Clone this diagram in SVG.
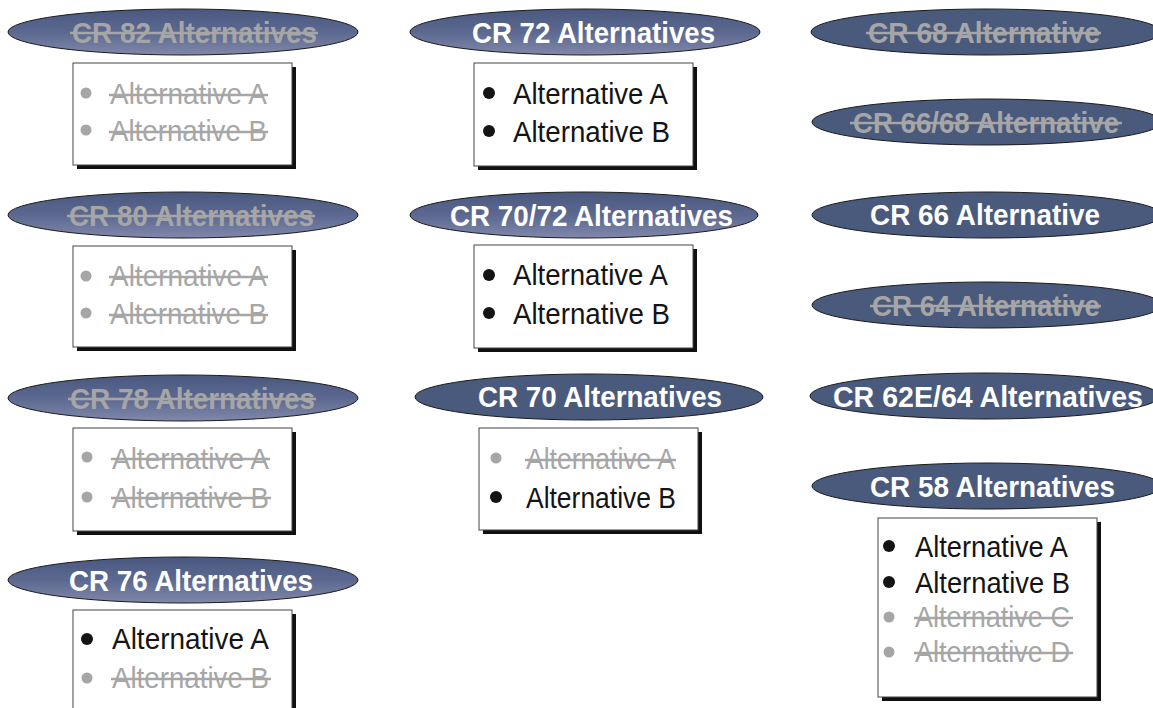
<svg xmlns="http://www.w3.org/2000/svg" width="1153" height="708" viewBox="0 0 1153 708">
<defs>
<linearGradient id="grad" x1="0" y1="0" x2="0" y2="1">
<stop offset="0" stop-color="#4a5880"/>
<stop offset="0.5" stop-color="#5c6890"/>
<stop offset="1" stop-color="#8088aa"/>
</linearGradient>
<style>
.eg{fill:url(#grad);stroke:#1a1a1a;stroke-width:1}
.es{fill:#4a5a7c;stroke:#1a1a1a;stroke-width:1}
.tt{font-family:"Liberation Sans Narrow","Liberation Sans",Arial,sans-serif;font-weight:bold;font-size:29px}
.it{font-family:"Liberation Sans Narrow","Liberation Sans",Arial,sans-serif;font-size:30px}
.on{fill:#ffffff}
.off{fill:#a6a6a6}
.blk{fill:#141414}
.st{stroke:#a6a6a6;stroke-width:2.5}
.shadow{fill:#111}
.box{fill:#fff;stroke:#444;stroke-width:1}
</style>
</defs>
<rect width="1153" height="708" fill="#fff"/>

<!-- Left column -->
<g id="cr82">
<ellipse class="eg" cx="183" cy="32" rx="175" ry="23"/>
<text class="tt off" x="72" y="43" textLength="245" lengthAdjust="spacingAndGlyphs">CR 82 Alternatives</text>
<line class="st" x1="70" y1="33" x2="318" y2="33"/>
<rect class="shadow" x="77" y="67" width="219" height="102"/>
<rect class="box" x="73" y="63" width="219" height="102"/>
<circle class="off" cx="86" cy="93" r="5.5"/>
<text class="it off" x="110" y="104" textLength="157" lengthAdjust="spacingAndGlyphs">Alternative A</text>
<line class="st" x1="109" y1="95" x2="268" y2="95"/>
<circle class="off" cx="86" cy="130" r="5.5"/>
<text class="it off" x="110" y="141" textLength="157" lengthAdjust="spacingAndGlyphs">Alternative B</text>
<line class="st" x1="109" y1="132" x2="268" y2="132"/>
</g>

<g id="cr80">
<ellipse class="eg" cx="183" cy="215" rx="175" ry="23"/>
<text class="tt off" x="69" y="226" textLength="245" lengthAdjust="spacingAndGlyphs">CR 80 Alternatives</text>
<line class="st" x1="67" y1="216" x2="315" y2="216"/>
<rect class="shadow" x="77" y="250" width="219" height="101"/>
<rect class="box" x="73" y="246" width="219" height="101"/>
<circle class="off" cx="86" cy="276" r="5.5"/>
<text class="it off" x="110" y="286" textLength="157" lengthAdjust="spacingAndGlyphs">Alternative A</text>
<line class="st" x1="109" y1="277" x2="268" y2="277"/>
<circle class="off" cx="86" cy="313" r="5.5"/>
<text class="it off" x="110" y="324" textLength="157" lengthAdjust="spacingAndGlyphs">Alternative B</text>
<line class="st" x1="109" y1="315" x2="268" y2="315"/>
</g>

<g id="cr78">
<ellipse class="eg" cx="183" cy="398" rx="175" ry="23"/>
<text class="tt off" x="70" y="409" textLength="245" lengthAdjust="spacingAndGlyphs">CR 78 Alternatives</text>
<line class="st" x1="68" y1="399" x2="316" y2="399"/>
<rect class="shadow" x="77" y="432" width="219" height="103"/>
<rect class="box" x="73" y="428" width="219" height="103"/>
<circle class="off" cx="87" cy="457" r="5.5"/>
<text class="it off" x="112" y="469" textLength="157" lengthAdjust="spacingAndGlyphs">Alternative A</text>
<line class="st" x1="111" y1="459" x2="270" y2="459"/>
<circle class="off" cx="87" cy="497" r="5.5"/>
<text class="it off" x="112" y="508" textLength="157" lengthAdjust="spacingAndGlyphs">Alternative B</text>
<line class="st" x1="111" y1="498" x2="271" y2="498"/>
</g>

<g id="cr76">
<ellipse class="eg" cx="183" cy="580" rx="175" ry="23"/>
<text class="tt on" x="69" y="591" textLength="244" lengthAdjust="spacingAndGlyphs">CR 76 Alternatives</text>
<rect class="shadow" x="77" y="614" width="219" height="120"/>
<rect class="box" x="73" y="610" width="219" height="120"/>
<circle class="blk" cx="87" cy="639" r="6"/>
<text class="it blk" x="112" y="649" textLength="157" lengthAdjust="spacingAndGlyphs">Alternative A</text>
<circle class="off" cx="87" cy="678" r="5.5"/>
<text class="it off" x="112" y="688" textLength="157" lengthAdjust="spacingAndGlyphs">Alternative B</text>
<line class="st" x1="111" y1="679" x2="271" y2="679"/>
</g>

<!-- Middle column -->
<g id="cr72">
<ellipse class="eg" cx="585" cy="32" rx="175" ry="23"/>
<text class="tt on" x="472" y="43" textLength="243" lengthAdjust="spacingAndGlyphs">CR 72 Alternatives</text>
<rect class="shadow" x="478" y="67" width="219" height="103"/>
<rect class="box" x="474" y="63" width="219" height="103"/>
<circle class="blk" cx="489" cy="93" r="6"/>
<text class="it blk" x="513" y="104" textLength="155" lengthAdjust="spacingAndGlyphs">Alternative A</text>
<circle class="blk" cx="489" cy="131" r="6"/>
<text class="it blk" x="513" y="142" textLength="157" lengthAdjust="spacingAndGlyphs">Alternative B</text>
</g>

<g id="cr70-72">
<ellipse class="eg" cx="584" cy="215" rx="174" ry="23"/>
<text class="tt on" x="450" y="226" textLength="283" lengthAdjust="spacingAndGlyphs">CR 70/72 Alternatives</text>
<rect class="shadow" x="478" y="249" width="219" height="103"/>
<rect class="box" x="474" y="245" width="219" height="103"/>
<circle class="blk" cx="489" cy="275" r="6"/>
<text class="it blk" x="513" y="285" textLength="155" lengthAdjust="spacingAndGlyphs">Alternative A</text>
<circle class="blk" cx="489" cy="313" r="6"/>
<text class="it blk" x="513" y="324" textLength="157" lengthAdjust="spacingAndGlyphs">Alternative B</text>
</g>

<g id="cr70">
<ellipse class="es" cx="589" cy="397" rx="174" ry="23"/>
<text class="tt on" x="478" y="407" textLength="244" lengthAdjust="spacingAndGlyphs">CR 70 Alternatives</text>
<rect class="shadow" x="483" y="432" width="219" height="102"/>
<rect class="box" x="479" y="428" width="219" height="102"/>
<circle class="off" cx="496" cy="458" r="5.5"/>
<text class="it off" x="526" y="469" textLength="149" lengthAdjust="spacingAndGlyphs">Alternative A</text>
<line class="st" x1="525" y1="460" x2="676" y2="460"/>
<circle class="blk" cx="496" cy="497" r="6"/>
<text class="it blk" x="526" y="508" textLength="150" lengthAdjust="spacingAndGlyphs">Alternative B</text>
</g>

<!-- Right column -->
<g id="cr68">
<ellipse class="es" cx="986" cy="32" rx="175" ry="23"/>
<text class="tt off" x="868" y="43" textLength="232" lengthAdjust="spacingAndGlyphs">CR 68 Alternative</text>
<line class="st" x1="866" y1="33" x2="1101" y2="33"/>
</g>

<g id="cr66-68">
<ellipse class="es" cx="987" cy="122" rx="175" ry="23"/>
<text class="tt off" x="853" y="133" textLength="266" lengthAdjust="spacingAndGlyphs">CR 66/68 Alternative</text>
<line class="st" x1="850" y1="123" x2="1122" y2="123"/>
</g>

<g id="cr66">
<ellipse class="es" cx="987" cy="215" rx="175" ry="23"/>
<text class="tt on" x="870" y="225" textLength="230" lengthAdjust="spacingAndGlyphs">CR 66 Alternative</text>
</g>

<g id="cr64">
<ellipse class="es" cx="987" cy="305" rx="175" ry="23"/>
<text class="tt off" x="872" y="316" textLength="228" lengthAdjust="spacingAndGlyphs">CR 64 Alternative</text>
<line class="st" x1="870" y1="306" x2="1101" y2="306"/>
</g>

<g id="cr62e-64">
<ellipse class="es" cx="985" cy="396" rx="175" ry="23"/>
<text class="tt on" x="833" y="407" textLength="310" lengthAdjust="spacingAndGlyphs">CR 62E/64 Alternatives</text>
</g>

<g id="cr58">
<ellipse class="es" cx="987" cy="486" rx="175" ry="23"/>
<text class="tt on" x="870" y="497" textLength="245" lengthAdjust="spacingAndGlyphs">CR 58 Alternatives</text>
<rect class="shadow" x="882" y="522" width="219" height="179"/>
<rect class="box" x="878" y="518" width="219" height="179"/>
<circle class="blk" cx="889" cy="546" r="6"/>
<text class="it blk" x="915" y="557" textLength="153" lengthAdjust="spacingAndGlyphs">Alternative A</text>
<circle class="blk" cx="889" cy="582" r="6"/>
<text class="it blk" x="915" y="593" textLength="155" lengthAdjust="spacingAndGlyphs">Alternative B</text>
<circle class="off" cx="889" cy="617" r="5.5"/>
<text class="it off" x="915" y="627" textLength="155" lengthAdjust="spacingAndGlyphs">Alternative C</text>
<line class="st" x1="914" y1="618" x2="1073" y2="618"/>
<circle class="off" cx="889" cy="652" r="5.5"/>
<text class="it off" x="915" y="662" textLength="155" lengthAdjust="spacingAndGlyphs">Alternative D</text>
<line class="st" x1="914" y1="653" x2="1073" y2="653"/>
</g>

<g id="connectors"/>
</svg>
